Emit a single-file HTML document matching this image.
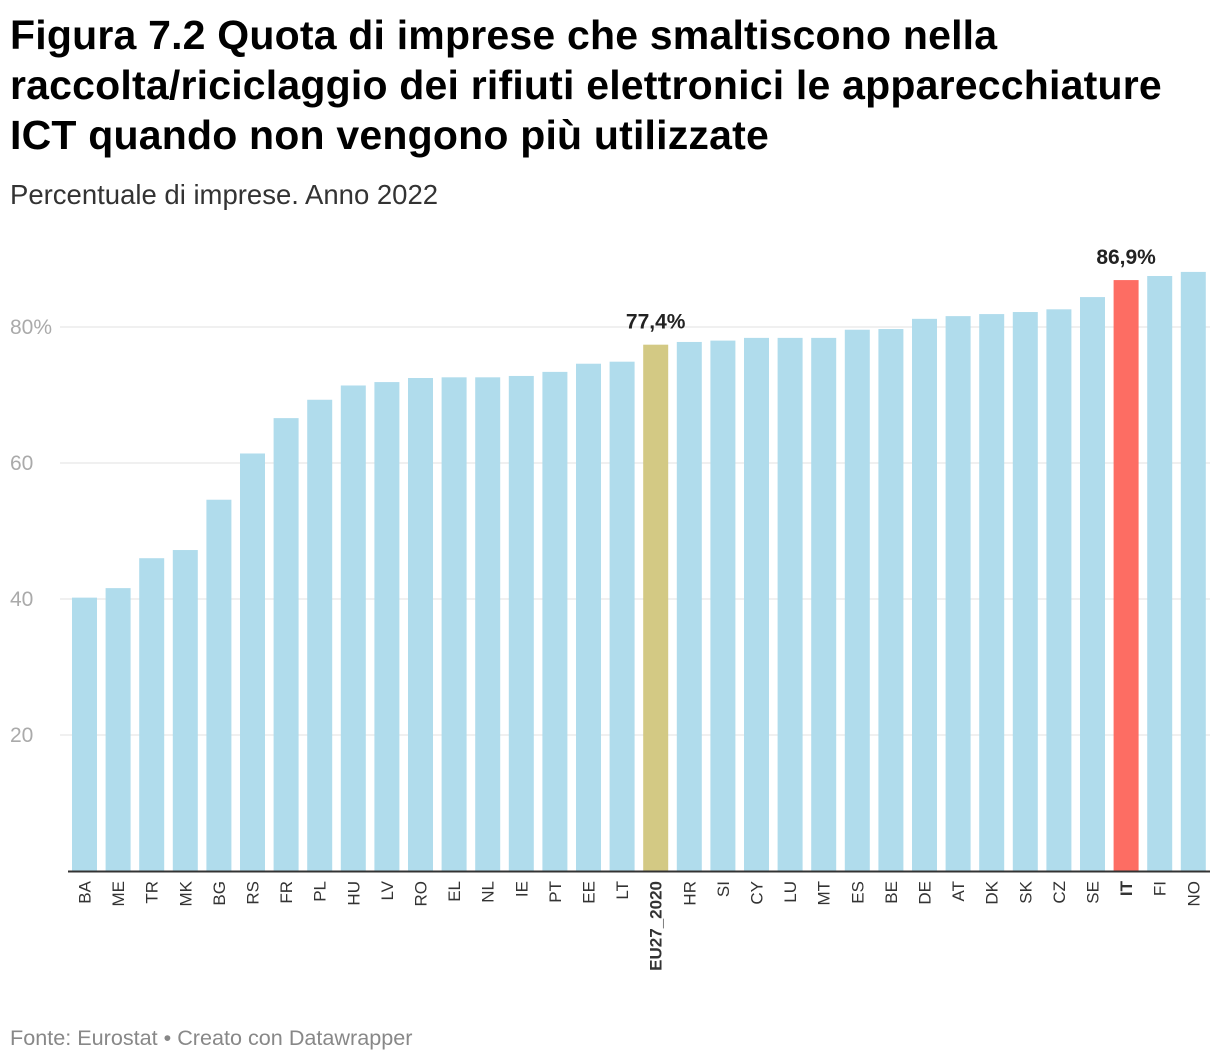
<!DOCTYPE html>
<html><head><meta charset="utf-8">
<style>
body{margin:0;background:#fff;font-family:"Liberation Sans",sans-serif;}
#wrap{position:relative;width:1220px;height:1064px;overflow:hidden;}
h1{position:absolute;left:10px;top:10px;margin:0;font-size:41px;line-height:50px;font-weight:bold;color:#000;letter-spacing:0.2px;white-space:nowrap;}
#sub{position:absolute;left:10px;top:179px;font-size:27.5px;color:#333;}
#foot{position:absolute;left:10px;top:1025px;font-size:21.6px;color:#888;}
</style></head><body>
<div id="wrap">
<h1>Figura 7.2 Quota di imprese che smaltiscono nella<br>raccolta/riciclaggio dei rifiuti elettronici le apparecchiature<br>ICT quando non vengono più utilizzate</h1>
<div id="sub">Percentuale di imprese. Anno 2022</div>
<svg id="svg" width="1220" height="1064" style="position:absolute;left:0;top:0"></svg>
<div id="foot">Fonte: Eurostat • Creato con Datawrapper</div>
</div>
<script>
const categories=["BA","ME","TR","MK","BG","RS","FR","PL","HU","LV","RO","EL","NL","IE","PT","EE","LT","EU27_2020","HR","SI","CY","LU","MT","ES","BE","DE","AT","DK","SK","CZ","SE","IT","FI","NO"];
const values=[40.2,41.6,46,47.2,54.6,61.4,66.6,69.3,71.4,71.9,72.5,72.6,72.6,72.8,73.4,74.6,74.9,77.4,77.8,78,78.4,78.4,78.4,79.6,79.7,81.2,81.6,81.9,82.2,82.6,84.4,86.9,87.5,88.1];
const yTicks=[20,40,60,80];
const yTickLabels=["20","40","60","80%"];
const NS="http://www.w3.org/2000/svg";
const svg=document.getElementById('svg');
const y=v=>871-v*6.8;
const xc=i=>84.5+i*33.6;
function mk(t,a){const e=document.createElementNS(NS,t);for(const k in a)e.setAttribute(k,a[k]);svg.appendChild(e);return e;}
yTicks.forEach((t,i)=>{
 const g=mk('line',{x1:60,x2:1210,y1:y(t),y2:y(t),stroke:'#e0e0e0','stroke-width':1});
 
 
 const l=mk('text',{x:10,y:y(t)+7,fill:'#aaa','font-size':21,'font-family':'Liberation Sans, sans-serif'});
 l.textContent=yTickLabels[i];
 
 
});
categories.forEach((c,i)=>{
 const v=values[i];
 let col='#b0dcec';
 if(c==='EU27_2020')col='#d3c984';
 if(c==='IT')col='#fd6d63';
 const r=mk('rect',{x:xc(i)-12.5,y:y(v),width:25,height:871-y(v),fill:col});
 
 
 const bold=(c==='EU27_2020'||c==='IT');
 const t=mk('text',{x:0,y:0,fill:'#333','font-size':17,'font-weight':bold?'bold':'normal','text-anchor':'end','font-family':'Liberation Sans, sans-serif',transform:`translate(${xc(i)+6},881) rotate(-90)`});
 t.textContent=c;
 
 
 if(bold){
  const lb=mk('text',{x:xc(i),y:y(v)-16,fill:'#222','font-size':21,'font-weight':'bold','text-anchor':'middle','font-family':'Liberation Sans, sans-serif'});
  lb.textContent=v.toFixed(1).replace('.',',')+'%';
  
  
 }
});
const ax=mk('line',{x1:68,x2:1210,y1:871.5,y2:871.5,stroke:'#333','stroke-width':2});


</script>
</body></html>
